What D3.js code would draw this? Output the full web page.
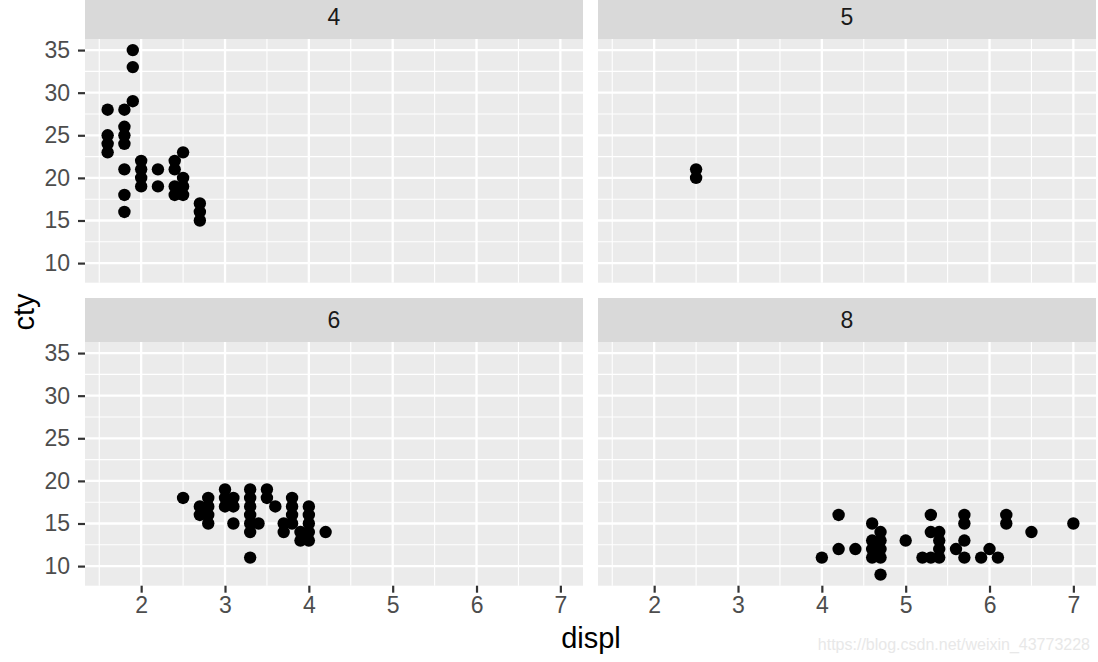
<!DOCTYPE html>
<html>
<head>
<meta charset="utf-8">
<script src="https://cdn.jsdelivr.net/npm/d3@7"></script>
<style>
  body { margin: 0; background: #fff; }
  text { font-family: "Liberation Sans", Arial, sans-serif; }
</style>
</head>
<body>
<div id="chart"></div>
<script>
// facet labels (cyl)
const FACETS = ["4", "5", "6", "8"];

// points [displ, cty] read from each facet
const pts4 = [[1.6,28],[1.6,25],[1.6,24],[1.6,23],[1.8,28],[1.8,26],[1.8,25],[1.8,24],
  [1.8,21],[1.8,18],[1.8,16],[1.9,35],[1.9,33],[1.9,29],[2.0,22],[2.0,21],[2.0,20],
  [2.0,19],[2.2,21],[2.2,19],[2.4,22],[2.4,21],[2.4,19],[2.4,18],[2.5,23],[2.5,20],
  [2.5,19],[2.5,18],[2.7,17],[2.7,16],[2.7,15]];
const pts5 = [[2.5,21],[2.5,20]];
const pts6 = [[2.5,18],[2.7,17],[2.7,16],[2.8,18],[2.8,17],[2.8,16],[2.8,15],[3.0,19],
  [3.0,18],[3.0,17],[3.1,18],[3.1,17],[3.1,15],[3.3,19],[3.3,18],[3.3,17],[3.3,16],
  [3.3,15],[3.3,14],[3.3,11],[3.4,15],[3.5,19],[3.5,18],[3.6,17],[3.7,15],[3.7,14],
  [3.8,18],[3.8,17],[3.8,16],[3.8,15],[3.9,14],[3.9,13],[4.0,17],[4.0,16],[4.0,15],
  [4.0,14],[4.0,13],[4.2,14]];
const pts8 = [[4.0,11],[4.2,16],[4.2,12],[4.4,12],[4.6,15],[4.6,13],[4.6,12],[4.6,11],
  [4.7,14],[4.7,13],[4.7,12],[4.7,11],[4.7,9],[5.0,13],[5.2,11],[5.3,16],[5.3,14],
  [5.3,11],[5.4,14],[5.4,13],[5.4,12],[5.4,11],[5.6,12],[5.7,16],[5.7,15],[5.7,13],
  [5.7,11],[5.9,11],[6.0,12],[6.1,11],[6.2,16],[6.2,15],[6.5,14],[7.0,15]];
const PANEL_DATA = [pts4, pts5, pts6, pts8];

const X_TICKS = [2, 3, 4, 5, 6, 7];
const X_MINOR = [1.5, 2.5, 3.5, 4.5, 5.5, 6.5];
const Y_TICKS = [10, 15, 20, 25, 30, 35];
const Y_MINOR = [12.5, 17.5, 22.5, 27.5, 32.5];

const WIDTH = 1098, HEIGHT = 662;
const PANEL_W = 498, PANEL_H = 243.7;
const STRIP_H = 44;
const COL_X = [85, 598];
const ROW_Y = [39, 342];   // panel tops

const svg = d3.select("#chart").append("svg")
  .attr("width", WIDTH).attr("height", HEIGHT);

const X_SCALE = d3.scaleLinear().domain([1.33, 7.27]).range([0, PANEL_W]);
const Y_SCALE = d3.scaleLinear().domain([7.7, 36.3]).range([PANEL_H, 0]);

FACETS.forEach((lab, i) => {
  const col = i % 2, row = Math.floor(i / 2);
  const px = COL_X[col], py = ROW_Y[row];

  // strip
  svg.append("rect")
    .attr("x", px).attr("y", py - STRIP_H)
    .attr("width", PANEL_W).attr("height", STRIP_H)
    .attr("fill", "#D9D9D9");
  svg.append("text")
    .attr("x", px + PANEL_W / 2).attr("y", py - 14)
    .attr("text-anchor", "middle")
    .attr("font-size", 23).attr("fill", "#1A1A1A")
    .text(lab);

  const g = svg.append("g").attr("transform", `translate(${px},${py})`);
  g.append("rect").attr("width", PANEL_W).attr("height", PANEL_H).attr("fill", "#EBEBEB");

  // minor grid
  g.selectAll(".xminor").data(X_MINOR).enter().append("line")
    .attr("x1", d => X_SCALE(d)).attr("x2", d => X_SCALE(d))
    .attr("y1", 0).attr("y2", PANEL_H)
    .attr("stroke", "#fff").attr("stroke-width", 1.1);
  g.selectAll(".yminor").data(Y_MINOR).enter().append("line")
    .attr("y1", d => Y_SCALE(d)).attr("y2", d => Y_SCALE(d))
    .attr("x1", 0).attr("x2", PANEL_W)
    .attr("stroke", "#fff").attr("stroke-width", 1.1);
  // major grid
  g.selectAll(".xmajor").data(X_TICKS).enter().append("line")
    .attr("x1", d => X_SCALE(d)).attr("x2", d => X_SCALE(d))
    .attr("y1", 0).attr("y2", PANEL_H)
    .attr("stroke", "#fff").attr("stroke-width", 2.3);
  g.selectAll(".ymajor").data(Y_TICKS).enter().append("line")
    .attr("y1", d => Y_SCALE(d)).attr("y2", d => Y_SCALE(d))
    .attr("x1", 0).attr("x2", PANEL_W)
    .attr("stroke", "#fff").attr("stroke-width", 2.3);

  // points
  g.selectAll(".pt").data(PANEL_DATA[i]).enter().append("circle")
    .attr("cx", d => X_SCALE(d[0]))
    .attr("cy", d => Y_SCALE(d[1]))
    .attr("r", 6.2)
    .attr("fill", "#000");

  // y axis on left column
  if (col === 0) {
    const ya = svg.append("g").attr("transform", `translate(${px},${py})`)
      .call(d3.axisLeft(Y_SCALE).tickValues(Y_TICKS).tickSize(7).tickPadding(8));
    ya.select(".domain").remove();
    ya.selectAll(".tick line").attr("stroke", "#333").attr("stroke-width", 2.2);
    ya.selectAll(".tick text").attr("fill", "#4D4D4D")
      .attr("font-size", 23).attr("font-family", "Liberation Sans, Arial, sans-serif");
  }
  // x axis on bottom row
  if (row === 1) {
    const xa = svg.append("g").attr("transform", `translate(${px},${py + PANEL_H})`)
      .call(d3.axisBottom(X_SCALE).tickValues(X_TICKS).tickFormat(d3.format("d"))
        .tickSize(7).tickPadding(4));
    xa.select(".domain").remove();
    xa.selectAll(".tick line").attr("stroke", "#333").attr("stroke-width", 2.2);
    xa.selectAll(".tick text").attr("fill", "#4D4D4D")
      .attr("font-size", 23).attr("font-family", "Liberation Sans, Arial, sans-serif");
  }
});

// axis titles
svg.append("text")
  .attr("x", 591).attr("y", 648)
  .attr("text-anchor", "middle")
  .attr("font-size", 29).attr("fill", "#000")
  .text("displ");
svg.append("text")
  .attr("transform", "translate(34,312) rotate(-90)")
  .attr("text-anchor", "middle")
  .attr("font-size", 29).attr("fill", "#000")
  .text("cty");

// watermark
svg.append("text")
  .attr("x", 1090).attr("y", 650)
  .attr("text-anchor", "end")
  .attr("font-size", 16).attr("fill", "#E8E8E8")
  .text("https://blog.csdn.net/weixin_43773228");
</script>
</body>
</html>
